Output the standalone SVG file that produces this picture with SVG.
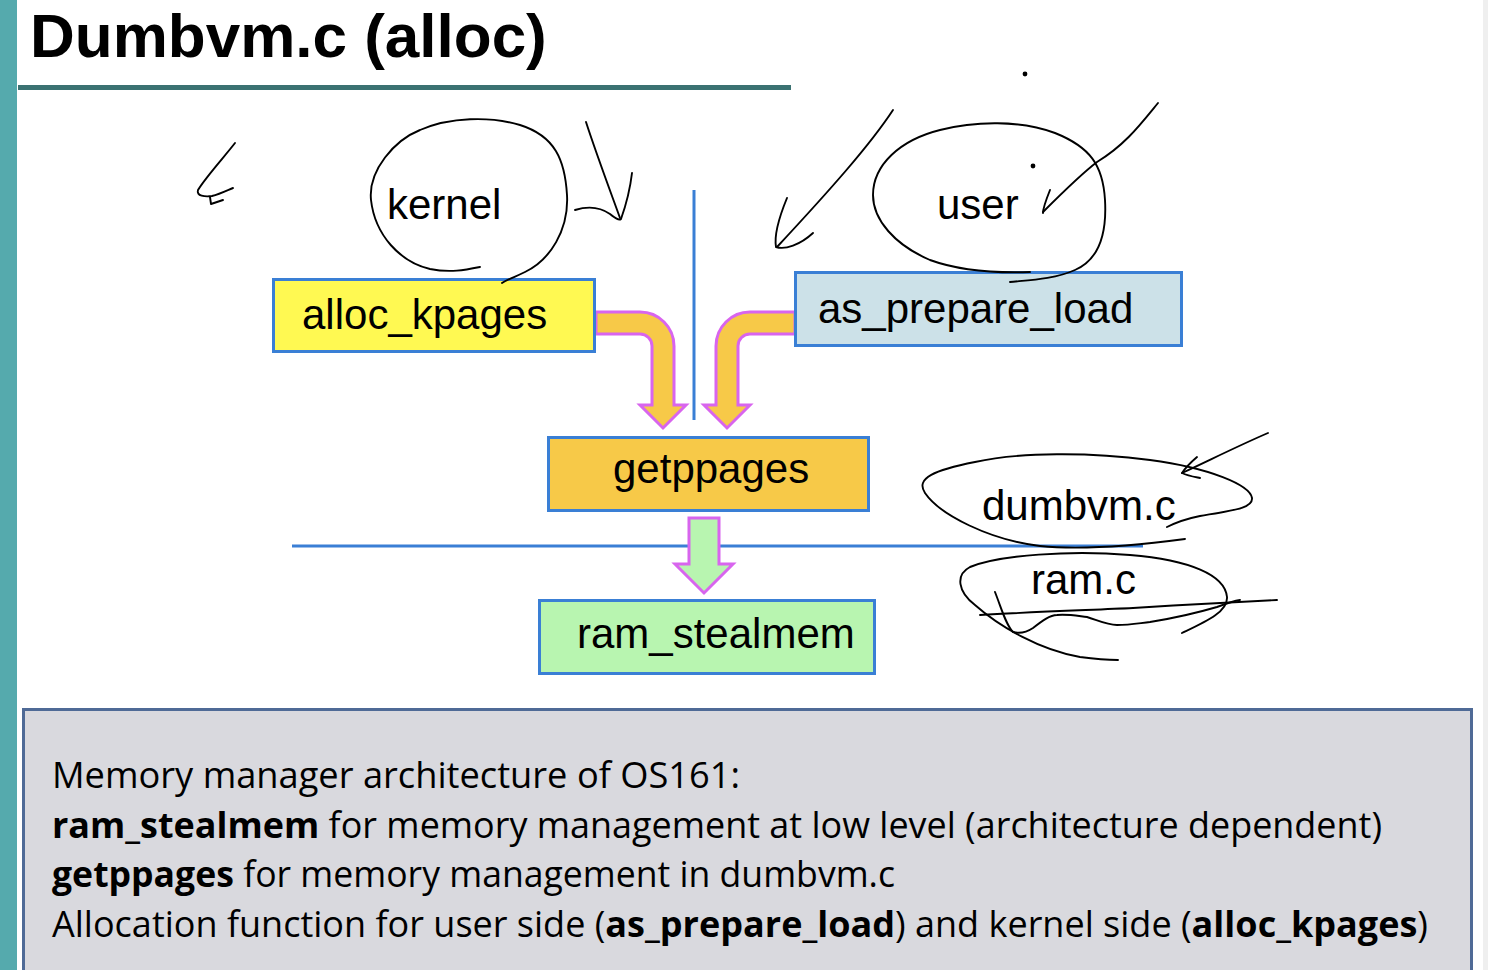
<svg xmlns="http://www.w3.org/2000/svg" width="1492" height="970" viewBox="0 0 1492 970">
<defs>
<style>
.box{stroke:#3A7FD5;stroke-width:3}
.lbl{font-family:"Liberation Sans",Arial,sans-serif;font-size:42px;fill:#000}
.sep{stroke:#3A7FD5;stroke-width:3;fill:none}
.arr{stroke:#D865EE;stroke-width:3;stroke-linejoin:miter}
.ink{fill:none;stroke:#000;stroke-width:1.9;stroke-linecap:round;stroke-linejoin:round}
.note{font-family:"Open Sans",Lato,sans-serif;font-size:36px;fill:#000}
.b{font-weight:bold}
</style>
</defs>
<rect x="0" y="0" width="1492" height="970" fill="#FFFFFF"/>
<rect x="0" y="0" width="17" height="970" fill="#55AAAD"/>
<rect x="1483" y="0" width="5" height="970" fill="#EFEFEF"/>
<text x="30" y="57" font-family="Liberation Sans,Arial,sans-serif" font-size="62" font-weight="bold" fill="#000">Dumbvm.c (alloc)</text>
<rect x="18" y="85" width="773" height="5" fill="#3B7272"/>

<g id="separators">
<line class="sep" x1="694" y1="190" x2="694" y2="420"/>
<line class="sep" x1="292" y1="546" x2="1143" y2="546"/>
</g>

<g id="connectors">
<path class="arr" fill="#F7C948" d="M596,312 L640,312 A34,34 0 0 1 674,346 L674,405 L686,405 L663,428 L640,405 L652,405 L652,346 A12,12 0 0 0 640,334 L596,334 Z"/>
<path class="arr" fill="#F7C948" d="M795,312 L750,312 A34,34 0 0 0 716,346 L716,405 L704,405 L727,428 L750,405 L738,405 L738,346 A12,12 0 0 1 750,334 L795,334 Z"/>
<path class="arr" fill="#B8F5B0" d="M689,518 L719,518 L719,564 L733,564 L704,593 L675,564 L689,564 Z"/>
</g>

<g id="alloc_kpages">
<rect class="box" x="273.5" y="279.5" width="321" height="72" fill="#FFF952"/>
<text class="lbl" x="302" y="329">alloc_kpages</text>
</g>
<g id="as_prepare_load">
<rect class="box" x="795.5" y="272.5" width="386" height="73" fill="#CCE1E8"/>
<text class="lbl" x="818" y="323">as_prepare_load</text>
</g>
<g id="getppages">
<rect class="box" x="548.5" y="437.5" width="320" height="73" fill="#F7C948"/>
<text class="lbl" x="613" y="483">getppages</text>
</g>
<g id="ram_stealmem">
<rect class="box" x="539.5" y="600.5" width="335" height="73" fill="#B8F5B0"/>
<text class="lbl" x="577" y="648">ram_stealmem</text>
</g>

<g id="annotations">
<text class="lbl" x="387" y="219">kernel</text>
<text class="lbl" x="937" y="219">user</text>
<text class="lbl" x="982" y="520">dumbvm.c</text>
<text class="lbl" x="1031" y="594">ram.c</text>
<path class="ink" d="M235,143 C225,156 205,178 198,190 C196,196 205,197 212,196 C220,194 228,190 233,188"/>
<path class="ink" d="M210,197 L211,204 L223,200"/>
<path class="ink" d="M480,267 C465,270 450,273 430,269 C400,262 375,235 371,200 C368,170 395,140 420,130 C450,117 490,116 520,125 C555,136 565,160 567,195 C569,230 550,260 525,272 C515,277 508,279 502,283"/>
<path class="ink" d="M586,122 C595,150 608,185 620,218"/>
<path class="ink" d="M575,210 C588,206 600,207 610,214 C615,218 619,221 621,219 C626,205 630,190 632,173"/>
<path class="ink" d="M1030,272 C1000,273 960,271 930,260 C895,245 873,220 873,195 C873,165 900,140 940,130 C975,121 1020,120 1055,133 C1090,147 1103,165 1105,200 C1107,235 1098,260 1075,270 C1055,279 1030,280 1010,282"/>
<circle cx="1033" cy="166" r="2.4" fill="#000"/>
<circle cx="1025" cy="74" r="2.4" fill="#000"/>
<path class="ink" d="M893,110 C870,145 830,190 777,247"/>
<path class="ink" d="M787,198 C780,215 774,235 776,247 C785,250 800,245 813,233"/>
<path class="ink" d="M1158,103 C1140,125 1125,145 1097,162 C1080,175 1060,195 1043,212"/>
<path class="ink" d="M1050,190 C1046,200 1043,208 1043,213"/>
<path class="ink" d="M1185,539 C1140,545 1080,550 1040,546 C990,540 940,515 925,493 C915,478 935,470 975,462 C1020,452 1090,452 1150,460 C1210,468 1250,485 1252,498 C1253,508 1235,510 1200,516 C1185,519 1175,523 1167,527"/>
<path class="ink" d="M1268,433 C1240,445 1210,460 1182,473"/>
<path class="ink" d="M1197,457 C1190,463 1184,470 1182,473 C1188,476 1195,477 1200,478"/>
<path class="ink" d="M1182,633 C1205,622 1228,612 1227,597 C1225,575 1190,560 1130,555 C1070,550 1000,555 970,567 C955,575 958,592 975,605 C1000,627 1040,650 1080,657 C1095,659 1105,660 1118,660"/>
<path class="ink" d="M980,615 C1030,612 1090,610 1133,608 C1180,605 1220,603 1277,600"/>
<path class="ink" d="M995,592 C1002,610 1006,625 1013,632 C1020,634 1027,632 1033,628 C1042,621 1050,615 1057,615 C1068,614 1078,616 1087,617 C1097,620 1107,625 1117,625 C1130,625 1140,623 1150,622 C1175,618 1200,612 1217,607 C1225,604 1233,601 1240,600"/>
</g>

<g id="note">
<rect x="23.5" y="709.5" width="1448" height="275" fill="#D9D9DE" stroke="#4F6A96" stroke-width="3"/>
<text class="note" x="52" y="788" textLength="688" lengthAdjust="spacingAndGlyphs">Memory manager architecture of OS161:</text>
<text class="note" x="52" y="838" textLength="1330" lengthAdjust="spacingAndGlyphs"><tspan class="b">ram_stealmem</tspan> for memory management at low level (architecture dependent)</text>
<text class="note" x="52" y="887" textLength="843" lengthAdjust="spacingAndGlyphs"><tspan class="b">getppages</tspan> for memory management in dumbvm.c</text>
<text class="note" x="52" y="937" textLength="1376" lengthAdjust="spacingAndGlyphs">Allocation function for user side (<tspan class="b">as_prepare_load</tspan>) and kernel side (<tspan class="b">alloc_kpages</tspan>)</text>
</g>
</svg>
